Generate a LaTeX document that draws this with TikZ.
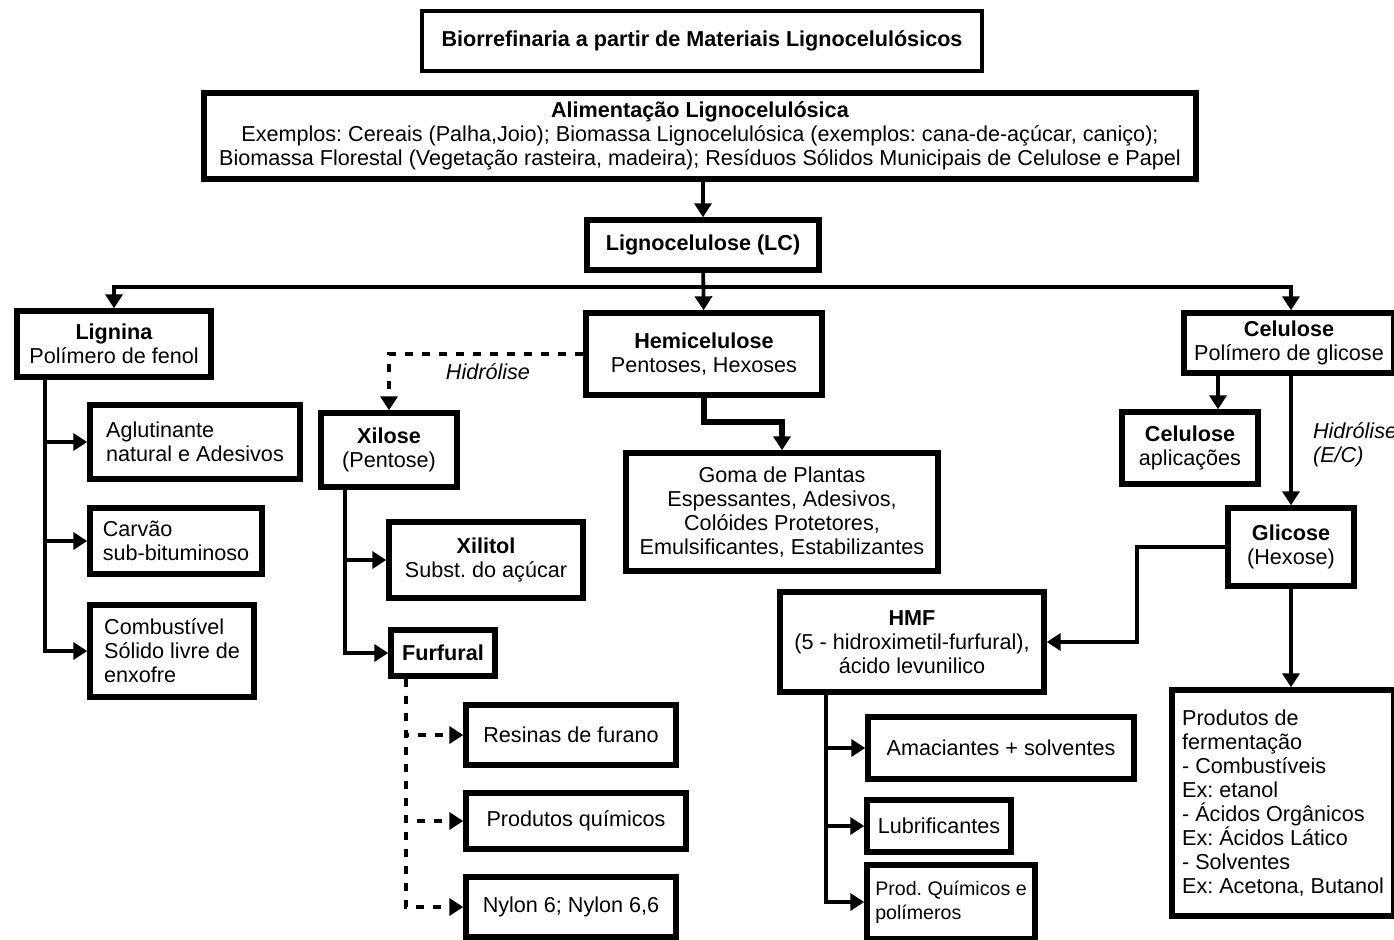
\documentclass[tikz,border=0pt]{standalone}
\usepackage{fontspec}
\setmainfont{Liberation Sans}
\usetikzlibrary{arrows.meta,positioning,calc}
\frenchspacing

\begin{document}
\begin{tikzpicture}[
    x=0.5pt, y=-0.5pt,
    font=\fontsize{10.8}{12}\selectfont,
    block/.style={rectangle, draw, line width=2.7pt, inner sep=2pt, align=center},
    leftblock/.style={block, align=left},
    arrow/.style={-{Triangle[length=7pt,width=8.5pt]}, line width=1.9pt},
    dasharrow/.style={arrow, dash pattern=on 4pt off 4.5pt},
    note/.style={font=\fontsize{10.8}{12}\selectfont\itshape, align=left}
]
\useasboundingbox (0,0) rectangle (1394,939);

% top
\node[block, line width=2.2pt, minimum width=280pt, minimum height=30pt] (title) at (702,41) {\textbf{Biorrefinaria a partir de Materiais Lignocelulósicos}};
\node[block, minimum width=496pt, minimum height=43pt] (alim) at (700,136) {\textbf{Alimentação Lignocelulósica}\\Exemplos: Cereais (Palha,Joio); Biomassa Lignocelulósica (exemplos: cana-de-açúcar, caniço);\\Biomassa Florestal (Vegetação rasteira, madeira); Resíduos Sólidos Municipais de Celulose e Papel};
\node[block, minimum width=116pt, minimum height=25pt] (lc) at (703,245) {\textbf{Lignocelulose (LC)}};

% lignina
\node[block, minimum width=97pt, minimum height=33pt] (lig) at (114,344) {\textbf{Lignina}\\Polímero de fenol};
\node[leftblock, minimum width=105pt, minimum height=37pt] (agl) at (195,442) {Aglutinante\\natural e Adesivos};
\node[leftblock, minimum width=86pt, minimum height=33pt] (carv) at (176,541) {Carvão\\sub-bituminoso};
\node[leftblock, minimum width=82pt, minimum height=46pt] (comb) at (172,651) {Combustível\\Sólido livre de\\enxofre};

% hemicelulose
\node[block, minimum width=118pt, minimum height=41pt] (hemi) at (704,354) {\textbf{Hemicelulose}\\Pentoses, Hexoses};
\node[block, minimum width=68pt, minimum height=37pt] (xil) at (389,450) {\textbf{Xilose}\\(Pentose)};
\node[block, minimum width=97pt, minimum height=38pt] (xit) at (486,560) {\textbf{Xilitol}\\Subst. do açúcar};
\node[block, minimum width=52pt, minimum height=23pt] (furf) at (443,653) {\textbf{Furfural}};
\node[block, minimum width=105pt, minimum height=30pt] (res) at (571,735) {Resinas de furano};
\node[block, minimum width=110pt, minimum height=28pt] (prq) at (576,821) {Produtos químicos};
\node[block, minimum width=105pt, minimum height=30pt] (nyl) at (571,907) {Nylon 6; Nylon 6,6};
\node[block, minimum width=156pt, minimum height=59pt] (goma) at (782,512) {Goma de Plantas\\Espessantes, Adesivos,\\Colóides Protetores,\\Emulsificantes, Estabilizantes};

% celulose
\node[block, minimum width=105pt, minimum height=30pt] (cel) at (1289,343) {\textbf{Celulose}\\Polímero de glicose};
\node[block, minimum width=68pt, minimum height=36pt] (celap) at (1190,448) {\textbf{Celulose}\\aplicações};
\node[block, minimum width=63pt, minimum height=39pt] (gli) at (1291,547) {\textbf{Glicose}\\(Hexose)};
\node[block, minimum width=132pt, minimum height=50pt] (hmf) at (912,642) {\textbf{HMF}\\(5 - hidroximetil-furfural),\\ácido levunilico};
\node[block, minimum width=133pt, minimum height=31pt] (ama) at (1001,748) {Amaciantes + solventes};
\node[block, minimum width=72pt, minimum height=26pt] (lub) at (939,826) {Lubrificantes};
\node[leftblock, font=\fontsize{9.8}{12}\selectfont, minimum width=84pt, minimum height=37pt] (pqm) at (951,902) {Prod. Químicos e\\polímeros};
\node[leftblock, minimum width=111pt, minimum height=113pt] (ferm) at (1283,803) {Produtos de\\fermentação\\- Combustíveis\\Ex: etanol\\- Ácidos Orgânicos\\Ex: Ácidos Lático\\- Solventes\\Ex: Acetona, Butanol};

% labels
\node[note] (hid1) at (488,372) {Hidrólise};
\node[note, anchor=west] (hid2) at (1306,445) {Hidrólise\\(E/C)};

% connectors
\coordinate (bus) at (703,287);
\draw[arrow] (alim.south -| lc) -- (lc);
\draw[arrow] (lc) -- (hemi);
\draw[arrow] (bus) -| (lig);
\draw[arrow] (bus) -| (cel.north -| gli.north);
\foreach \t in {agl,carv,comb}
  \draw[arrow] ([xshift=15.5pt]lig.south west) |- (\t.west);
\draw[dasharrow] (hemi.west) -| (xil.north);
\foreach \t in {xit,furf}
  \draw[arrow] ([xshift=13.5pt]xil.south west) |- (\t.west);
\foreach \t in {res,prq,nyl}
  \draw[dasharrow] ([xshift=9pt]furf.south west) |- (\t.west);
\draw[arrow, line width=3pt] (hemi.south) -- ++(0,24) -| (goma.north);
\coordinate (cap) at ([xshift=14pt]celap.north);
\draw[arrow] (cap |- cel.south) -- (cap);
\draw[arrow] (cel.south -| gli.north) -- (gli.north);
\draw[arrow] (gli.west) -- ++(-88,0) |- (hmf.east);
\draw[arrow] (gli.south) -- (gli.south |- ferm.north);
\foreach \t in {ama,lub,pqm}
  \draw[arrow] ([xshift=24.5pt]hmf.south west) |- (\t.west);
\end{tikzpicture}
\end{document}
